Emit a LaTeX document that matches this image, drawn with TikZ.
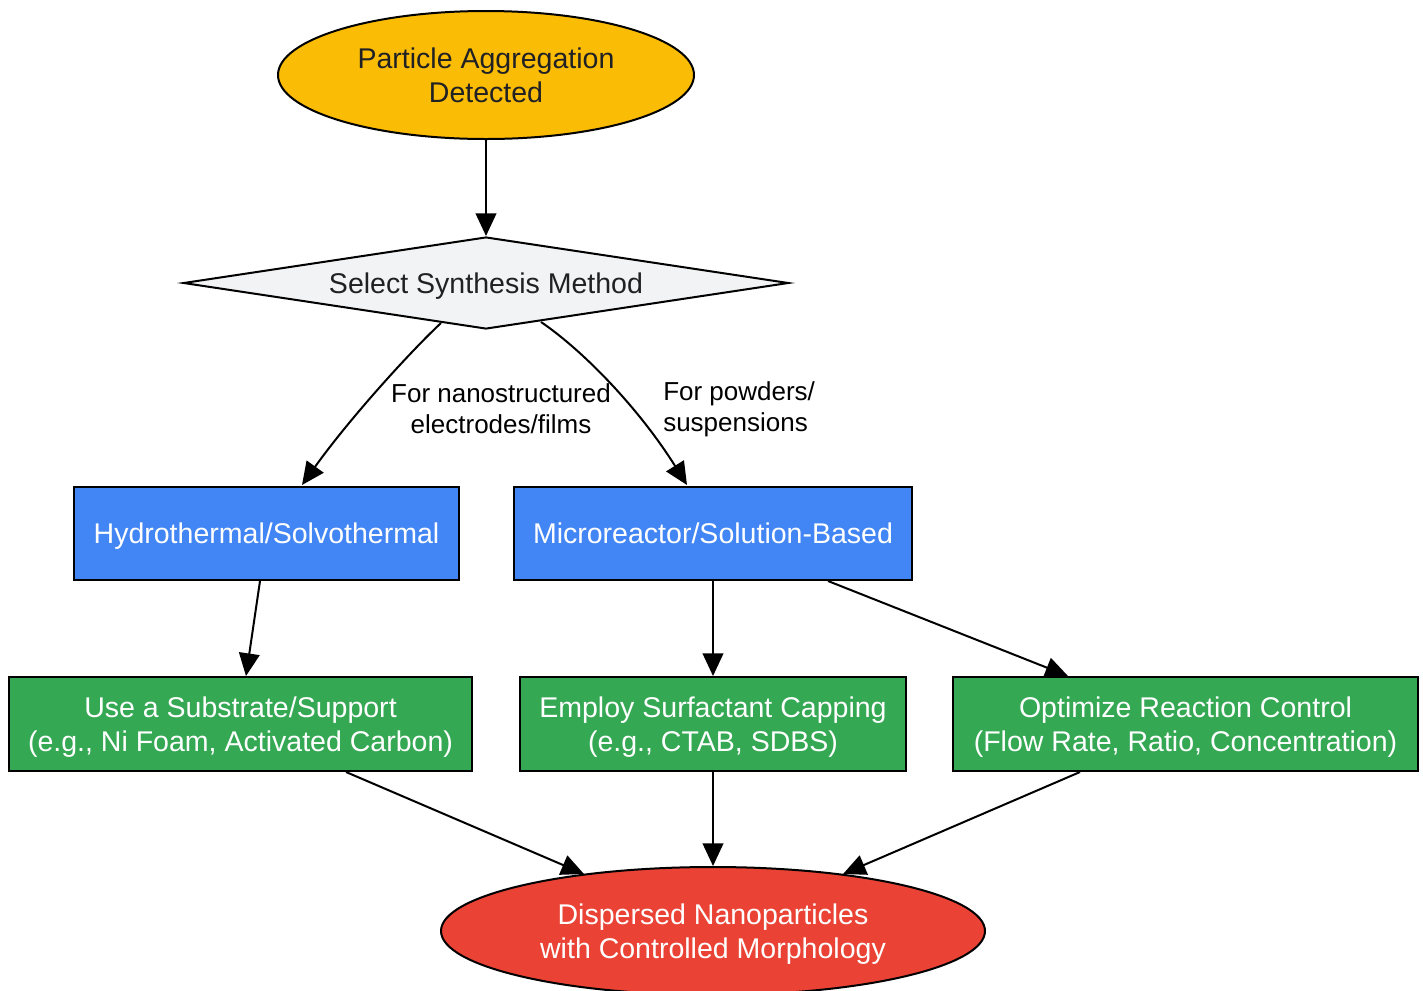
\documentclass[tikz,border=0pt]{standalone}
\usepackage{fontspec}
\setmainfont{Liberation Sans}
\usetikzlibrary{shapes.geometric,arrows.meta,calc}
\definecolor{cyellow}{HTML}{FBBC05}
\definecolor{cgray}{HTML}{F1F3F4}
\definecolor{cblue}{HTML}{4285F4}
\definecolor{cgreen}{HTML}{34A853}
\definecolor{cred}{HTML}{EA4335}
\definecolor{ctext}{HTML}{202124}
\tikzset{
  base/.style={draw=black, line width=1.5pt, inner sep=0pt, align=center, font=\fontsize{21.4}{26}\selectfont, text depth=0pt},
  ell/.style={base, ellipse},
  dec/.style={base, diamond, aspect=6.57},
  bluebox/.style={base, rectangle, fill=cblue, text=white, minimum height=69.75pt},
  greenbox/.style={base, rectangle, fill=cgreen, text=white, minimum height=70.5pt},
  conn/.style={line width=1.5pt, -{Triangle[length=17pt,width=15.5pt]}},
  elabel/.style={font=\fontsize{19.5}{23.5}\selectfont, text=black, inner sep=0pt}
}
\begin{document}
\begin{tikzpicture}[x=0.75pt,y=-0.75pt]
\useasboundingbox[fill=white] (0,0) rectangle (1423,990);
\node[ell, fill=cyellow, text=ctext, minimum width=312pt, minimum height=96pt] (top) at (486,75) {Particle Aggregation\\Detected};
\node[dec, fill=cgray, text=ctext, minimum width=454pt, minimum height=69pt] (d) at (486,283) {Select Synthesis Method};
\node[bluebox, minimum width=288.75pt] (h) at (266.5,533.5) {Hydrothermal/Solvothermal};
\node[bluebox, minimum width=298.5pt] (m) at (713,533.5) {Microreactor/Solution-Based};
\node[greenbox, minimum width=347.25pt] (s) at (240.5,724) {Use a Substrate/Support\\(e.g., Ni Foam, Activated Carbon)};
\node[greenbox, minimum width=289.5pt] (c) at (713,724) {Employ Surfactant Capping\\(e.g., CTAB, SDBS)};
\node[greenbox, minimum width=348.75pt] (o) at (1185.5,724) {Optimize Reaction Control\\(Flow Rate, Ratio, Concentration)};
\node[ell, fill=cred, text=white, minimum width=408pt, minimum height=96pt] (e) at (713,931) {Dispersed Nanoparticles\\with Controlled Morphology};

\draw[conn] (top.south) -- (d.north);
\draw[conn] ($(d.center)+(-45,40)$) .. controls (410,352) and (350,418) .. ($(h.north)+(35.5,-1)$);
\draw[conn] ($(d.center)+(55,39)$) .. controls (585,352) and (640,410) .. ($(m.north)+(-26,-1)$);
\node[elabel, align=center] (l1) at (501,409) {For nanostructured\\electrodes/films};
\node[elabel, align=left, anchor=west] (l2) at (663,409) {For powders/\\suspensions};
\draw[conn] ($(h.south)+(-6.5,0)$) -- ($(s.north)+(5.5,0)$);
\draw[conn] (m.south) -- (c.north);
\draw[conn] ($(m.south)+(115,0)$) -- ($(o.north)+(-117.5,0)$);
\draw[conn] ($(s.south)+(105.5,0)$) -- ($(e.center)+(-129,-57)$);
\draw[conn] (c.south) -- (e.north);
\draw[conn] ($(o.south)+(-105.5,0)$) -- ($(e.center)+(130,-57)$);
\end{tikzpicture}
\end{document}
